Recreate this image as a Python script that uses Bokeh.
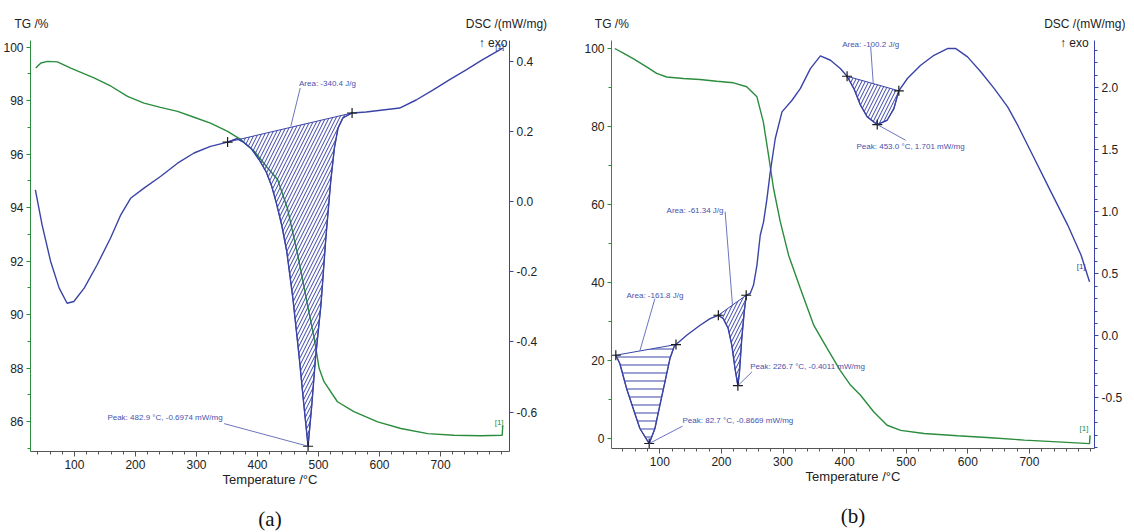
from bokeh.plotting import figure
from bokeh.models import Range1d, LinearAxis, FixedTicker, Label
from bokeh.layouts import row
from bokeh.embed import file_html
from bokeh.resources import INLINE

# ---------------- data: panel (a) ----------------
tg_a_temp = [36.6, 45, 56, 72, 94, 132, 160, 187, 214, 241, 269, 296, 323, 351, 373, 395,
             416, 433, 449, 466, 482, 493, 501, 509, 531, 558, 597, 635, 679, 722, 766, 801, 802]
tg_a_val = [99.22, 99.41, 99.47, 99.45, 99.22, 98.85, 98.54, 98.16, 97.91, 97.75, 97.60, 97.38,
            97.16, 96.85, 96.54, 96.10, 95.50, 95.05, 93.98, 92.23, 90.36, 89.11, 87.99, 87.49,
            86.74, 86.37, 85.99, 85.74, 85.55, 85.49, 85.47, 85.49, 85.85]
dsc_a_temp = [36, 47, 61, 75, 88, 99, 116, 137, 159, 176, 192, 214, 241, 269, 296, 323, 351, 366,
              376, 390, 403, 414, 423, 431, 440, 448, 458, 468, 476, 482.9, 489, 495, 504, 512,
              520, 526, 532, 540, 555, 578, 633, 660, 688, 715, 742, 769, 802]
dsc_a_val = [0.033, -0.067, -0.171, -0.247, -0.290, -0.285, -0.247, -0.181, -0.105, -0.038,
             0.009, 0.038, 0.071, 0.109, 0.138, 0.157, 0.169, 0.179, 0.170, 0.150,
             0.118, 0.085, 0.045, -0.005, -0.07, -0.143, -0.276, -0.438, -0.58, -0.6974,
             -0.58, -0.447, -0.295, -0.105, 0.057, 0.152, 0.209, 0.238, 0.252, 0.255,
             0.266, 0.289, 0.318, 0.347, 0.375, 0.404, 0.437]
areas_a = [(351, 555, "/")]
peaks_a = [(482.9, -0.6974)]
area_text_a = ["Area: -340.4 J/g"]
peak_text_a = ["Peak: 482.9 °C, -0.6974 mW/mg"]

# ---------------- data: panel (b) ----------------
tg_b_temp = [26.9, 40, 56.7, 78.5, 94.8, 111, 138, 165, 192.5, 219.5, 241, 257.6, 268, 276.5,
             284.6, 295.5, 309, 328, 350, 371.6, 393, 409.5, 425.8, 447.5, 469, 491, 529, 583,
             637.5, 691.7, 746, 797.6, 798.5]
tg_b_val = [100, 98.9, 97.4, 95.3, 93.6, 92.7, 92.3, 92.05, 91.6, 91.2, 90.2, 87.6, 81.2, 72.6,
            64.1, 55.6, 47, 38.5, 29, 23.1, 17.4, 13.7, 11.1, 6.8, 3.4, 2.1, 1.3, 0.7,
            0.2, -0.4, -0.85, -1.3, 0.8]
dsc_b_temp = [28.5, 35, 46, 56.7, 67.6, 82.7, 92, 100, 108.3, 116.4,
              123, 126.2, 143.6, 165.3, 181.6, 195, 203, 211, 216.9, 222,
              226.7, 229.3, 233, 237, 240.2, 246.7, 252, 257.6, 263, 268.4,
              273.9, 279.3, 287.4, 298.3, 314.6, 328, 344.4, 360.7, 377, 393,
              404, 415, 425.8, 436.7, 453, 469, 480, 488, 501.9, 523.5,
              545, 567, 580.5, 599.6, 621, 643, 664.7, 681, 708, 735,
              762.4, 784, 797.6]
dsc_b_val = [-0.156, -0.223, -0.424, -0.585, -0.746, -0.8669, -0.746, -0.559, -0.370, -0.183,
             -0.089, -0.070, 0.005, 0.085, 0.139, 0.166, 0.139, 0.059, -0.076, -0.263,
             -0.4011, -0.29, -0.022, 0.193, 0.327, 0.341, 0.407, 0.568, 0.810, 0.918,
             1.105, 1.320, 1.589, 1.803, 1.897, 1.991, 2.152, 2.254, 2.219, 2.152,
             2.090, 1.991, 1.857, 1.763, 1.701, 1.736, 1.830, 1.973, 2.072, 2.179,
             2.259, 2.313, 2.313, 2.246, 2.126, 1.991, 1.844, 1.696, 1.428, 1.159,
             0.890, 0.649, 0.435]
areas_b = [(28.5, 126.2, "-"), (195, 240.2, "/"), (404, 488, "/")]
peaks_b = [(82.7, -0.8669), (226.7, -0.4011), (453.0, 1.701)]
area_text_b = ["Area: -161.8 J/g", "Area: -61.34 J/g", "Area: -100.2 J/g"]
peak_text_b = ["Peak: 82.7 °C, -0.8669 mW/mg", "Peak: 226.7 °C, -0.4011 mW/mg",
               "Peak: 453.0 °C, 1.701 mW/mg"]

x_ticks = [100, 200, 300, 400, 500, 600, 700]
tg_a_ticks = [86, 88, 90, 92, 94, 96, 98, 100]
dsc_a_ticks = [-0.6, -0.4, -0.2, 0, 0.2, 0.4]
dsc_a_labels = {-0.6: "-0.6", -0.4: "-0.4", -0.2: "-0.2", 0: "0.0", 0.2: "0.2", 0.4: "0.4"}
tg_b_ticks = [0, 20, 40, 60, 80, 100]
dsc_b_ticks = [-0.5, 0, 0.5, 1, 1.5, 2]
dsc_b_labels = {-0.5: "-0.5", 0: "0.0", 0.5: "0.5", 1: "1.0", 1.5: "1.5", 2: "2.0"}

GREEN = "#2a8c3c"
BLUE = "#3a44a6"
ANN = "#4652ad"
INK = "#222222"
FONT = "Liberation Sans"
SERIF = "Liberation Serif"


def style_axis(ax, color, ticks, minor, fmt=None):
    ax.ticker = FixedTicker(ticks=ticks, minor_ticks=minor)
    ax.axis_line_color = color
    ax.major_tick_line_color = color
    ax.minor_tick_line_color = color
    ax.major_tick_out = 4
    ax.major_tick_in = 0
    ax.minor_tick_out = 3
    ax.minor_tick_in = 0
    ax.major_label_text_font = FONT
    ax.major_label_text_font_size = "12px"
    ax.major_label_text_color = INK
    ax.major_label_standoff = 3
    if fmt:
        ax.major_label_overrides = fmt


def text_axis(p, labels, standoff, place, size="12px", font=FONT, color=INK):
    ax = LinearAxis(ticker=FixedTicker(ticks=list(labels.keys()), minor_ticks=[]),
                    major_label_overrides=labels, axis_line_color=None,
                    major_tick_line_color=None, minor_tick_line_color=None,
                    major_tick_out=0, major_tick_in=0, major_label_standoff=standoff,
                    major_label_text_font=font, major_label_text_font_size=size,
                    major_label_text_color=color)
    p.add_layout(ax, place)


def hatched(p, temps, vals, t0, t1, pattern):
    xs = [t for t in temps if t0 <= t <= t1]
    ys = [v for t, v in zip(temps, vals) if t0 <= t <= t1]
    p.patch(xs, ys, y_range_name="dsc", fill_color=None, line_color=BLUE, line_width=1,
            hatch_pattern=pattern, hatch_color=BLUE, hatch_scale=7 if pattern == "/" else 8,
            hatch_weight=1)
    p.scatter([xs[0], xs[-1]], [ys[0], ys[-1]], y_range_name="dsc", marker="cross", size=10,
              line_color="#1a1a1a", line_width=1.2)


def lab(p, x, y, text, rng=None, size="8px", color=ANN, align="left"):
    kw = dict(x=x, y=y, text=text, text_font=FONT, text_font_size=size, text_color=color,
              text_align=align, text_baseline="middle")
    if rng:
        kw["y_range_name"] = rng
    p.add_layout(Label(**kw))


def make_fig(xr, tgr, dscr, fw, fh, bl, br, bt, bb, tag):
    p = figure(frame_width=fw, frame_height=fh, x_range=Range1d(*xr), y_range=Range1d(*tgr),
               min_border_left=bl, min_border_right=br, min_border_top=bt, min_border_bottom=bb,
               output_backend="svg", toolbar_location=None)
    p.extra_y_ranges = {"dsc": Range1d(*dscr)}
    p.xgrid.visible = False
    p.ygrid.visible = False
    p.outline_line_color = None
    p.background_fill_color = "white"
    p.border_fill_color = "white"
    p.add_layout(LinearAxis(y_range_name="dsc"), "right")
    xa = p.xaxis[0]
    style_axis(xa, "#555555", x_ticks, list(range(40, 801, 20)))
    xa.major_tick_out = 5
    xa.axis_label = "Temperature /°C"
    xa.axis_label_text_font = FONT
    xa.axis_label_text_font_size = "13px"
    xa.axis_label_text_font_style = "normal"
    xa.axis_label_text_color = INK
    xa.axis_label_standoff = 0
    text_axis(p, {round((xr[0] + xr[1]) / 2, 1): tag}, 17, "below", "21px", SERIF, "#111111")
    return p


# ---------------- panel (a) ----------------
pa = make_fig((28, 813), (84.88, 100.25), (-0.7124, 0.4585), 479, 411, 30, 58, 40, 10, "(a)")
style_axis(pa.yaxis[0], GREEN, tg_a_ticks, list(range(85, 101)))
style_axis(pa.yaxis[1], BLUE, dsc_a_ticks, [], dsc_a_labels)
text_axis(pa, {786: "↑ exo"}, -9, "above")
text_axis(pa, {29.5: "TG /%", 808: "DSC /(mW/mg)"}, 2, "above")
pa.line(tg_a_temp, tg_a_val, color=GREEN, line_width=1.4)
pa.line(dsc_a_temp, dsc_a_val, y_range_name="dsc", color=BLUE, line_width=1.4)
for t0, t1, pat in areas_a:
    hatched(pa, dsc_a_temp, dsc_a_val, t0, t1, pat)
pa.scatter([p[0] for p in peaks_a], [p[1] for p in peaks_a], y_range_name="dsc",
           marker="cross", size=10, line_color="#1a1a1a", line_width=1.2)
pa.segment([470], [0.323], [454.6], [0.214], y_range_name="dsc", color=ANN, line_width=0.8)
pa.segment([345.4], [-0.633], [peaks_a[0][0]], [peaks_a[0][1]], y_range_name="dsc",
           color=ANN, line_width=0.8)
lab(pa, 468, 0.337, area_text_a[0], "dsc")
lab(pa, 154, -0.616, peak_text_a[0], "dsc")
lab(pa, 796, 85.95, "[1]", None, "8px", GREEN, "center")
lab(pa, 797, 0.44, "[1]", "dsc", "8px", BLUE, "center")

# ---------------- panel (b) ----------------
pb = make_fig((21.5, 805.7), (-2.56, 102.05), (-0.907, 2.378), 483, 408, 44, 29, 40, 10, "(b)")
style_axis(pb.yaxis[0], GREEN, tg_b_ticks, list(range(0, 101, 10)))
style_axis(pb.yaxis[1], BLUE, dsc_b_ticks, [round(-0.9 + 0.1 * i, 1) for i in range(33)],
           dsc_b_labels)
text_axis(pb, {773: "↑ exo"}, -9, "above")
text_axis(pb, {22: "TG /%", 800: "DSC /(mW/mg)"}, 2, "above")
pb.line(tg_b_temp, tg_b_val, color=GREEN, line_width=1.4)
pb.line(dsc_b_temp, dsc_b_val, y_range_name="dsc", color=BLUE, line_width=1.4)
for t0, t1, pat in areas_b:
    hatched(pb, dsc_b_temp, dsc_b_val, t0, t1, pat)
pb.scatter([p[0] for p in peaks_b], [p[1] for p in peaks_b], y_range_name="dsc",
           marker="cross", size=10, line_color="#1a1a1a", line_width=1.2)
pb.segment([92, 206, 442.3, 136.8, 249.5, 499],
           [0.300, 1.0, 2.327, -0.727, -0.29, 1.575],
           [67.6, 217.9, 446.5, peaks_b[0][0], peaks_b[1][0], peaks_b[2][0]],
           [-0.12, 0.25, 2.031, peaks_b[0][1], peaks_b[1][1], peaks_b[2][1]],
           y_range_name="dsc", color=ANN, line_width=0.8)
lab(pb, 45.9, 0.327, area_text_b[0], "dsc")
lab(pb, 111, 1.011, area_text_b[1], "dsc")
lab(pb, 396, 2.345, area_text_b[2], "dsc")
lab(pb, 136.8, -0.682, peak_text_b[0], "dsc")
lab(pb, 246.7, -0.25, peak_text_b[1], "dsc")
lab(pb, 419.3, 1.524, peak_text_b[2], "dsc")
lab(pb, 788.5, 2.6, "[1]", None, "8px", GREEN, "center")
lab(pb, 784, 0.56, "[1]", "dsc", "8px", BLUE, "center")

layout = row(pa, pb)
open("out.html", "w").write(file_html(layout, INLINE))
